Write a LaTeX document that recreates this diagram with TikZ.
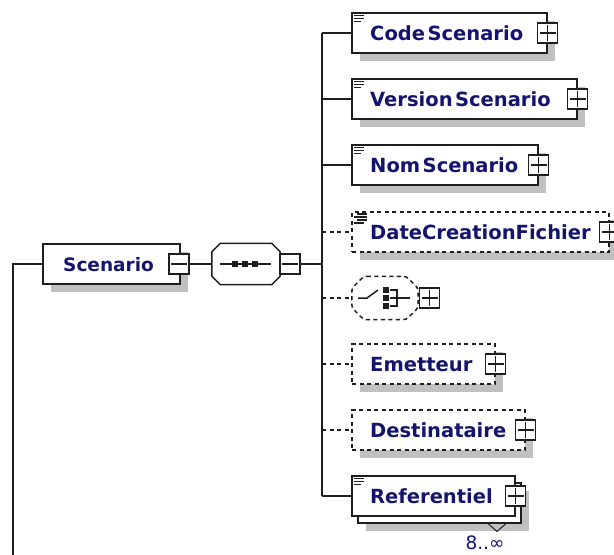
\documentclass[tikz,border=0pt]{standalone}
\usepackage{fontspec}
\setmainfont{DejaVu Sans}
\usetikzlibrary{shadows,calc}
\definecolor{navy}{RGB}{20,20,110}
\definecolor{shgray}{RGB}{192,192,192}
\definecolor{ink}{RGB}{30,30,30}
\tikzset{
  conn/.style={line width=1.5pt, draw=ink},
  optconn/.style={conn, dash pattern=on 4pt off 3.5pt},
  shad/.style={drop shadow={shadow xshift=8pt, shadow yshift=-8pt, fill=shgray, opacity=1}},
  box/.style={rectangle, draw=ink, line width=1.5pt, fill=white, minimum height=40pt, inner sep=0pt},
  optbox/.style={box, dash pattern=on 4pt off 3.5pt},
  pm/.style={rectangle, draw=ink, line width=1.4pt, fill=white, minimum size=20pt, inner sep=0pt},
  plusbox/.style={pm, path picture={
      \draw[line width=1.4pt,ink] ([xshift=-8pt]path picture bounding box.center) -- ([xshift=8pt]path picture bounding box.center);
      \draw[line width=1.4pt,ink] ([yshift=-8pt]path picture bounding box.center) -- ([yshift=8pt]path picture bounding box.center);}},
  minusbox/.style={pm, path picture={
      \draw[line width=1.4pt,ink] ([xshift=-8pt]path picture bounding box.center) -- ([xshift=8pt]path picture bounding box.center);}},
  lbl/.style={anchor=base west, inner sep=0pt, text=navy, font=\bfseries\fontsize{19.5}{23}\selectfont},
  iconl/.style={line width=1.2pt, draw=ink},
  area/.style={rectangle, inner sep=0pt},
  octline/.style={draw=ink, line width=1.5pt, fill=white},
}
\newcommand\reqicon[1]{\draw[iconl] ([shift={(3pt,-3pt)}]#1.north west) -- ++(10pt,0pt) ([shift={(3pt,-6pt)}]#1.north west) -- ++(10pt,0pt) ([shift={(3pt,-9pt)}]#1.north west) -- ++(7pt,0pt);}
\newcommand\octpath[3]{%
  \fill[shgray, shift={(8pt,-8pt)}] ([xshift=#2]#1.north west) -- ([xshift=-#2]#1.north east) -- ([yshift=-#2]#1.north east) -- ([yshift=#2]#1.south east) -- ([xshift=-#2]#1.south east) -- ([xshift=#2]#1.south west) -- ([yshift=#2]#1.south west) -- ([yshift=-#2]#1.north west) -- cycle;
  \path[#3] ([xshift=#2]#1.north west) -- ([xshift=-#2]#1.north east) -- ([yshift=-#2]#1.north east) -- ([yshift=#2]#1.south east) -- ([xshift=-#2]#1.south east) -- ([xshift=#2]#1.south west) -- ([yshift=#2]#1.south west) -- ([yshift=-#2]#1.north west) -- cycle;}
\newcommand\gap{\kern2.5pt}
\begin{document}
\begin{tikzpicture}[x=1pt,y=-1pt]
\useasboundingbox (0,0) rectangle (614,555);
\fill[white] (0,0) rectangle (614,555);

% root element
\node[box, shad, minimum width=137pt] (scen) at (111.5,264) {};
\node[lbl, font=\bfseries\fontsize{18.5}{23}\selectfont] (scenT) at (63,271) {Scenario};
\node[minusbox] (scenM) at (179,264) {};
\coordinate (lstart) at (13,560);
\draw[conn] (lstart) |- (scen.west);

% sequence
\node[area, minimum width=68pt, minimum height=41pt] (seq) at (246,264) {};
\octpath{seq}{8.5pt}{octline}
\draw[line width=1.5pt, ink] (220,264) -- (271,264);
\foreach \xx in {235,245,255} \fill[ink] (\xx-2.75,261.25) rectangle (\xx+2.75,266.75);
\node[minusbox] (seqM) at (290,264) {};
\draw[conn] (scenM.east) -- (seq.west);

% children
\node[box, shad, minimum width=195pt] (code) at (449.5,33) {};
\node[box, shad, minimum width=225pt] (vers) at (464.5,99) {};
\node[box, shad, minimum width=186pt] (nom) at (445,165) {};
\node[optbox, shad, minimum width=257pt] (date) at (480.5,232) {};
\node[area, minimum width=66pt, minimum height=43pt] (choice) at (385,298) {};
\octpath{choice}{12pt}{octline, dash pattern=on 4pt off 3.5pt, rounded corners=3pt}
\node[optbox, shad, minimum width=143pt] (emet) at (423.5,364) {};
\node[optbox, shad, minimum width=173pt] (dest) at (438.5,430) {};
\node[box, shad, minimum width=163pt] (refB) at (439.5,503) {};
\node[box, minimum width=163pt] (ref) at (433.5,496) {};

% labels
\node[lbl] (codeT) at (370,40) {Code\gap Scenario};
\node[lbl] (versT) at (370,106) {Version\gap Scenario};
\node[lbl] (nomT) at (370,172) {Nom\gap Scenario};
\node[lbl] (dateT) at (370,239) {DateCreationFichier};
\node[lbl] (emetT) at (370,371) {Emetteur};
\node[lbl] (destT) at (370,437) {Destinataire};
\node[lbl] (refT) at (370,503) {Referentiel};

% icons
\reqicon{code}
\reqicon{vers}
\reqicon{nom}
\reqicon{ref}
\draw[iconl] (357,214) -- (367,214) (354,217) -- (367,217) (357,220) -- (367,220) (354,223) -- (364,223);

% choice symbol
\draw[line width=1.5pt, ink] (358,298) -- (367,298) -- (378,290);
\foreach \yy in {290,298,306} \fill[ink] (383,\yy-2.75) rectangle (388.5,\yy+2.75);
\draw[line width=1.5pt, ink] (390,290) -- (397,290) -- (397,306) -- (390,306) (390,298) -- (410,298);

% plus boxes
\node[plusbox] (codeP) at (code.east) {};
\node[plusbox] (versP) at (vers.east) {};
\node[plusbox] (nomP) at (nom.east) {};
\node[plusbox] (dateP) at (date.east) {};
\node[plusbox] (choiceP) at (429.5,298) {};
\node[plusbox] (emetP) at (emet.east) {};
\node[plusbox] (destP) at (dest.east) {};
\node[plusbox] (refP) at (ref.east) {};

% multiplicity
\draw[line width=1pt, ink] (488,523.5) -- (497,531.5) -- (506,523.5);
\node[text=navy, font=\fontsize{18.5}{20}\selectfont, inner sep=0pt] (refM) at (485,543) {8..∞};

% bus and connectors
\coordinate (bus) at (322,264);
\draw[conn] (seqM.east) -- (bus);
\draw[conn] (bus |- code.west) -- (bus |- ref.west);
\draw[conn] (bus |- code.west) -- (code.west);
\draw[conn] (bus |- vers.west) -- (vers.west);
\draw[conn] (bus |- nom.west) -- (nom.west);
\draw[optconn] (bus |- date.west) -- (date.west);
\draw[optconn] (bus |- choice.west) -- (choice.west);
\draw[optconn] (bus |- emet.west) -- (emet.west);
\draw[optconn] (bus |- dest.west) -- (dest.west);
\draw[conn] (bus |- ref.west) -- (ref.west);
\end{tikzpicture}
\end{document}
